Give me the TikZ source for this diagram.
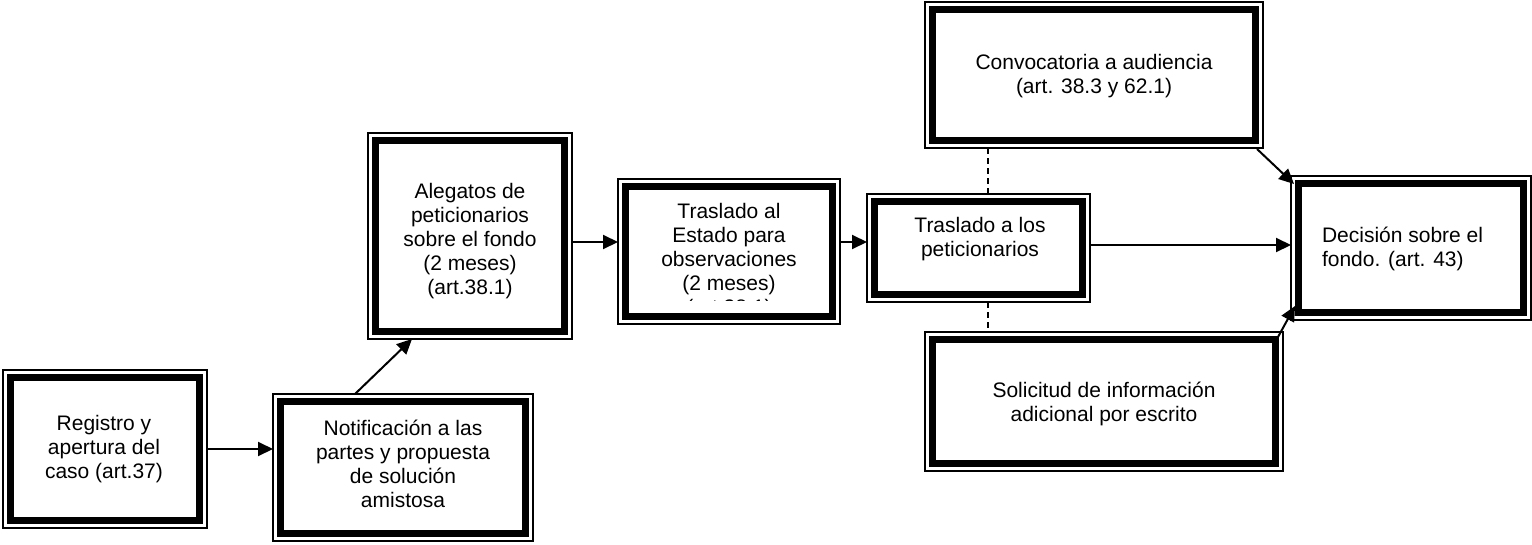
\documentclass[tikz,border=0pt]{standalone}
\usepackage{fontspec}
\setmainfont{Liberation Sans}
\usetikzlibrary{arrows.meta,calc}
\begin{document}
\begin{tikzpicture}[x=1pt,y=-1pt,
  frame/.style={draw, line width=1.3pt, fill=white, inner sep=0pt, outer sep=0pt},
  lbl/.style={font=\fontsize{21}{24}\selectfont, align=center, inner sep=0pt, outer sep=0pt},
  arr/.style={line width=2pt, -{Triangle[length=15pt,width=14pt]}},
  dashconn/.style={line width=1.5pt, dash pattern=on 6pt off 4pt}]
\useasboundingbox (0,0) rectangle (1532,544);
% frames
\node[frame, minimum width=204pt, minimum height=158pt] (b1) at (105,449) {};
\node[frame, minimum width=260pt, minimum height=147pt] (b2) at (403,467.5) {};
\node[frame, minimum width=204pt, minimum height=206pt] (b3) at (470,236) {};
\node[frame, minimum width=222pt, minimum height=145pt] (b4) at (729,251.5) {};
\node[frame, minimum width=223pt, minimum height=108pt] (b5) at (978.5,248) {};
\node[frame, minimum width=338pt, minimum height=146pt] (b6) at (1094,75) {};
\node[frame, minimum width=358pt, minimum height=139pt] (b7) at (1104,401.5) {};
\node[frame, minimum width=240pt, minimum height=144pt] (b8) at (1411,248) {};
% thick inner borders
\foreach \n in {b1,b2,b3,b4,b5,b6,b7,b8}
  \draw[line width=7pt] ([xshift=7.3pt,yshift=-7.3pt]\n.north west) rectangle ([xshift=-7.3pt,yshift=7.3pt]\n.south east);
% texts
\node[lbl] (t1) at (104,449.5) {Registro y\\apertura del\\caso (art.37)};
\node[lbl] (t2) at (403,463.4) {Notificación a las\\partes y propuesta\\de solución\\amistosa};
\node[lbl] (t3) at (470,241.5) {Alegatos de\\peticionarios\\sobre el fondo\\(2 meses)\\(art.38.1)};
\begin{scope}
  \clip (630,191) rectangle (828,300.5);
  \node[lbl] (t4) at (729,261.5) {Traslado al\\Estado para\\observaciones\\(2 meses)\\(art.38.1)};
\end{scope}
\node[lbl] (t5) at (980,239.5) {Traslado a los\\peticionarios};
\node[lbl] (t6) at (1094,76.5) {Convocatoria a audiencia\\(art. 38.3 y 62.1)};
\node[lbl] (t7) at (1104,403.5) {Solicitud de información\\adicional por escrito};
\node[lbl, align=left, anchor=west] (t8) at (1322,248.5) {Decisión sobre el\\fondo. (art. 43)};
% connectors
\coordinate (dx) at (988,0);
\coordinate (a34) at ([yshift=-6pt]b3.east);
\coordinate (a45) at ([yshift=9.5pt]b4.east);
\coordinate (a58) at ([yshift=3pt]b5.east);
\draw[arr] (b1.east) -- (b1.east -| b2.west);
\draw[arr] ($(b2.north west)+(82,0)$) -- ($(b3.south west)+(44,0)$);
\draw[arr] (a34) -- (a34 -| b4.west);
\draw[arr] (a45) -- (a45 -| b5.west);
\draw[arr] (a58) -- (a58 -| b8.west);
\draw[arr] ($(b6.south east)+(-6,1)$) -- ($(b8.north west)+(3,8)$);
\draw[arr] ($(b7.north east)+(-5,5)$) -- ($(b8.south west)+(4,-14)$);
\draw[dashconn] (b6.south -| dx) -- (b5.north -| dx);
\draw[dashconn] (b5.south -| dx) -- (b7.north -| dx);
\end{tikzpicture}
\end{document}
